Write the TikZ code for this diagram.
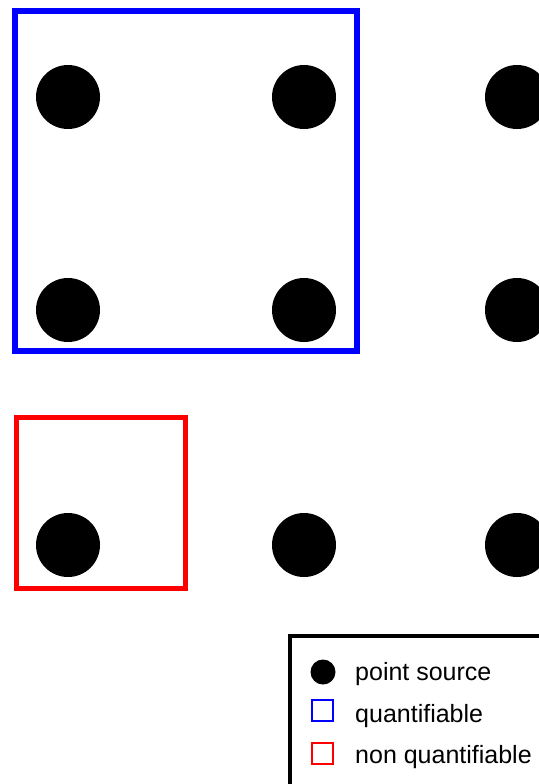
\documentclass[tikz,border=0pt]{standalone}
\usepackage{fontspec}
\setmainfont{Liberation Sans}
\usetikzlibrary{positioning}
\definecolor{quantblue}{RGB}{0,0,255}
\definecolor{nonquantred}{RGB}{255,0,0}
\tikzset{
  source/.style={circle,fill=black,minimum size=64pt,inner sep=0pt},
  quantbox/.style={rectangle,draw=quantblue,line width=6pt,minimum width=342pt,minimum height=340pt},
  nonquantbox/.style={rectangle,draw=nonquantred,line width=5pt,minimum width=169pt,minimum height=171pt},
  keybox/.style={rectangle,draw=black,line width=4pt},
  keysource/.style={circle,fill=black,minimum size=25pt,inner sep=0pt},
  keysquare/.style={rectangle,line width=2pt,minimum size=21pt,inner sep=0pt},
  keytext/.style={anchor=base west,inner sep=0pt,font=\fontsize{25}{30}\selectfont}
}
\begin{document}
\begin{tikzpicture}[x=1pt,y=1pt]
  \useasboundingbox[fill=white] (0,0) rectangle (538,-784);
  % grid of point sources
  \node[source] (s11) at (68,-97) {};
  \node[source] (s12) at (304,-97) {};
  \node[source] (s13) at (517,-97) {};
  \node[source] (s21) at (68,-310) {};
  \node[source] (s22) at (304,-310) {};
  \node[source] (s23) at (517,-310) {};
  \node[source] (s31) at (68,-545) {};
  \node[source] (s32) at (304,-545) {};
  \node[source] (s33) at (517,-545) {};
  % regions
  \node[quantbox] (quant) at (186,-181) {};
  \node[nonquantbox] (nonquant) at (100.5,-502.5) {};
  % legend
  \draw[keybox] (290,-636) rectangle (548,-795);
  \node[keysource] (keydot) at (323,-672) {};
  \node[keysquare,draw=quantblue] (keyblue) at (322,-710.5) {};
  \node[keysquare,draw=nonquantred] (keyred) at (322,-753.5) {};
  \node[keytext] (txtdot) at (355,-680) {point source};
  \node[keytext] (txtblue) at (355,-722) {quantifiable};
  \node[keytext] (txtred) at (355,-763) {non quantifiable};
\end{tikzpicture}
\end{document}
